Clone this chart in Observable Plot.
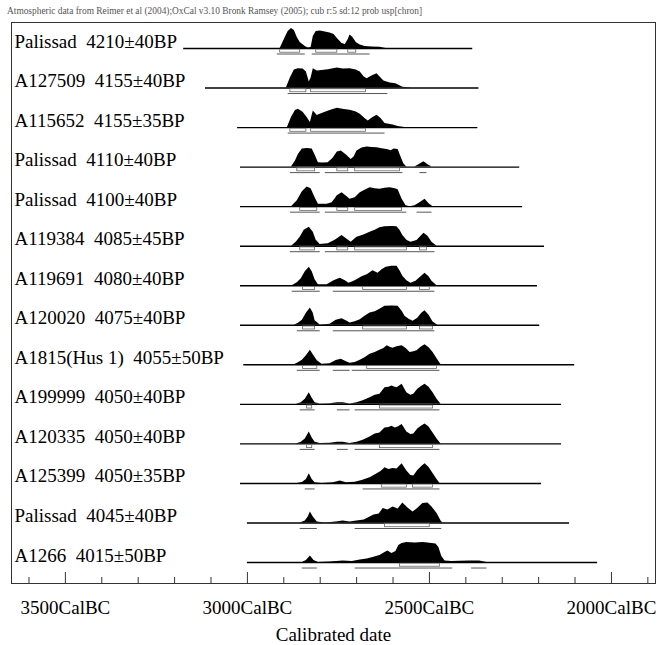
<!DOCTYPE html>
<html><head><meta charset="utf-8">
<script src="https://cdn.jsdelivr.net/npm/d3@7"></script>
<script src="https://cdn.jsdelivr.net/npm/@observablehq/plot@0.6"></script>
<style>
html,body{margin:0;padding:0;background:#fff;}
#title{height:20px;font:9.4px "Liberation Serif",serif;color:#555;padding-left:7px;line-height:22px;white-space:nowrap;overflow:hidden;}
</style></head><body>
<div id="title">Atmospheric data from Reimer et al (2004);OxCal v3.10 Bronk Ramsey (2005); cub r:5 sd:12 prob usp[chron]</div>
<div id="chart"></div>
<script>
// ---- data (years BC) ----
const labels = [
  "Palissad\u00a0 4210±40BP", "A127509\u00a0 4155±40BP", "A115652\u00a0 4155±35BP",
  "Palissad\u00a0 4110±40BP", "Palissad\u00a0 4100±40BP", "A119384\u00a0 4085±45BP",
  "A119691\u00a0 4080±40BP", "A120020\u00a0 4075±40BP", "A1815(Hus 1)\u00a0 4055±50BP",
  "A199999\u00a0 4050±40BP", "A120335\u00a0 4050±40BP", "A125399\u00a0 4050±35BP",
  "Palissad\u00a0 4045±40BP", "A1266\u00a0 4015±50BP"
];
const lineStart = [3175, 3115, 3027, 3019, 3019, 3019, 3019, 3019, 3010, 3019, 3019, 3019, 3000, 3000];
const lineEnd   = [2381, 2364, 2367, 2252, 2244, 2184, 2203, 2197, 2101, 2137, 2137, 2192, 2115, 2038];

const densities = [
  [[2910,0],[2896,0.55],[2888,0.85],[2879,1],[2871,0.9],[2863,0.55],[2855,0.3],[2841,0.1],[2833,0.02],[2825,0.05],[2819,0.6],[2811,0.85],[2800,0.87],[2786,0.83],[2773,0.78],[2762,0.7],[2753,0.5],[2740,0.25],[2731,0.2],[2723,0.45],[2718,0.67],[2710,0.55],[2701,0.3],[2690,0.17],[2677,0.1],[2658,0.08],[2636,0.06],[2619,0]],
  [[2893,0],[2882,0.5],[2871,0.9],[2860,0.97],[2847,0.95],[2838,0.8],[2830,0.3],[2825,0.5],[2819,0.97],[2808,0.85],[2795,0.88],[2778,0.92],[2753,1],[2737,0.95],[2718,0.97],[2701,0.9],[2690,0.8],[2679,0.55],[2671,0.47],[2658,0.6],[2644,0.72],[2633,0.5],[2625,0.35],[2608,0.25],[2592,0.22],[2581,0.12],[2573,0.04],[2548,0]],
  [[2890,0],[2879,0.5],[2868,0.85],[2860,0.92],[2847,0.77],[2836,0.5],[2827,0.25],[2819,0.83],[2808,0.6],[2795,0.7],[2773,0.85],[2753,0.97],[2734,0.9],[2718,0.87],[2701,0.78],[2690,0.67],[2677,0.45],[2668,0.33],[2655,0.5],[2644,0.62],[2633,0.45],[2622,0.2],[2600,0.13],[2586,0.06],[2567,0]],
  [[2879,0],[2868,0.3],[2860,0.63],[2849,0.9],[2836,0.93],[2822,0.9],[2814,0.6],[2805,0.22],[2792,0.2],[2778,0.22],[2764,0.45],[2753,0.75],[2742,0.8],[2728,0.6],[2715,0.38],[2707,0.5],[2699,0.8],[2685,0.95],[2671,1],[2658,0.98],[2644,0.97],[2630,0.92],[2616,0.88],[2605,0.82],[2597,0.9],[2586,0.88],[2578,0.5],[2570,0.15],[2562,0],[2540,0],[2529,0.12],[2515,0.27],[2504,0.12],[2493,0]],
  [[2879,0],[2863,0.3],[2849,0.75],[2836,0.98],[2825,0.9],[2814,0.45],[2805,0.12],[2781,0.12],[2767,0.2],[2753,0.55],[2740,0.7],[2726,0.5],[2718,0.37],[2704,0.45],[2690,0.7],[2677,0.82],[2663,0.95],[2649,0.9],[2636,0.87],[2622,0.92],[2608,0.95],[2594,0.9],[2586,0.85],[2575,0.37],[2564,0.05],[2553,0],[2540,0.05],[2526,0.2],[2512,0.37],[2501,0.15],[2490,0]],
  [[2879,0],[2866,0.2],[2855,0.45],[2844,0.8],[2830,0.95],[2819,0.7],[2811,0.3],[2800,0.08],[2778,0.12],[2759,0.3],[2740,0.53],[2726,0.35],[2715,0.2],[2699,0.45],[2682,0.55],[2663,0.7],[2649,0.8],[2636,0.92],[2622,0.97],[2603,0.98],[2589,0.97],[2581,0.8],[2573,0.53],[2562,0.3],[2551,0.2],[2534,0.28],[2523,0.5],[2515,0.65],[2504,0.5],[2493,0.2],[2479,0]],
  [[2877,0],[2863,0.15],[2852,0.35],[2841,0.7],[2830,0.92],[2822,0.7],[2814,0.3],[2805,0.05],[2781,0.05],[2762,0.25],[2745,0.38],[2731,0.25],[2721,0.13],[2710,0.2],[2699,0.3],[2685,0.45],[2671,0.55],[2655,0.75],[2641,0.63],[2630,0.8],[2619,0.92],[2603,0.97],[2589,0.97],[2581,0.75],[2573,0.47],[2562,0.25],[2551,0.13],[2537,0.22],[2523,0.45],[2512,0.63],[2501,0.45],[2493,0.22],[2479,0]],
  [[2871,0],[2860,0.1],[2849,0.25],[2838,0.6],[2827,0.87],[2819,0.6],[2814,0.23],[2800,0.02],[2773,0.05],[2756,0.25],[2740,0.33],[2726,0.2],[2718,0.12],[2704,0.18],[2690,0.28],[2677,0.45],[2663,0.62],[2649,0.68],[2636,0.8],[2622,0.95],[2603,0.97],[2586,0.95],[2575,0.7],[2567,0.45],[2556,0.3],[2545,0.2],[2532,0.35],[2521,0.6],[2512,0.73],[2501,0.5],[2490,0.17],[2477,0]],
  [[2871,0],[2860,0.1],[2849,0.23],[2838,0.45],[2827,0.73],[2819,0.5],[2808,0.2],[2795,0.03],[2773,0.05],[2756,0.22],[2742,0.28],[2728,0.15],[2718,0.08],[2704,0.12],[2690,0.23],[2677,0.35],[2663,0.53],[2649,0.62],[2636,0.73],[2625,0.82],[2616,0.95],[2608,0.88],[2600,0.83],[2589,0.9],[2575,0.95],[2564,0.82],[2553,0.62],[2543,0.65],[2534,0.7],[2523,0.88],[2512,1],[2501,0.85],[2490,0.62],[2479,0.3],[2468,0]],
  [[2866,0],[2852,0.08],[2841,0.25],[2830,0.58],[2822,0.3],[2814,0.08],[2800,0.02],[2773,0.03],[2753,0.08],[2737,0.08],[2718,0.02],[2699,0.08],[2682,0.18],[2663,0.33],[2649,0.45],[2636,0.5],[2622,0.83],[2611,0.85],[2603,0.92],[2594,0.85],[2589,0.83],[2575,1],[2562,0.58],[2551,0.45],[2543,0.5],[2532,0.75],[2521,0.9],[2512,1],[2501,0.85],[2490,0.58],[2479,0.25],[2468,0]],
  [[2866,0],[2852,0.08],[2841,0.25],[2830,0.6],[2822,0.3],[2814,0.08],[2800,0.02],[2773,0.03],[2753,0.08],[2737,0.08],[2718,0.02],[2699,0.08],[2682,0.18],[2663,0.35],[2649,0.5],[2636,0.55],[2622,0.8],[2611,0.82],[2603,0.88],[2594,0.8],[2586,0.85],[2575,0.97],[2562,0.6],[2551,0.47],[2543,0.5],[2532,0.75],[2521,0.9],[2512,1],[2501,0.85],[2490,0.55],[2479,0.25],[2468,0]],
  [[2863,0],[2849,0.05],[2838,0.2],[2830,0.48],[2822,0.2],[2814,0.04],[2795,0],[2764,0.03],[2745,0.12],[2728,0.04],[2704,0.06],[2685,0.15],[2663,0.28],[2647,0.45],[2633,0.6],[2622,0.78],[2611,0.7],[2600,0.75],[2589,0.72],[2575,0.98],[2562,0.62],[2551,0.4],[2543,0.37],[2532,0.65],[2521,0.85],[2512,0.98],[2501,0.8],[2490,0.5],[2479,0.2],[2471,0]],
  [[2855,0],[2841,0.1],[2833,0.3],[2827,0.55],[2819,0.3],[2808,0.05],[2786,0],[2756,0.05],[2737,0.1],[2718,0.05],[2699,0.1],[2679,0.15],[2663,0.3],[2652,0.4],[2638,0.45],[2627,0.72],[2614,0.65],[2600,0.8],[2586,0.7],[2573,1],[2559,0.75],[2545,0.55],[2534,0.7],[2518,0.97],[2504,1],[2493,0.8],[2479,0.47],[2468,0.1],[2463,0]],
  [[2849,0],[2838,0.1],[2827,0.33],[2817,0.1],[2805,0],[2773,0.02],[2737,0.08],[2712,0.05],[2690,0.12],[2671,0.18],[2655,0.25],[2636,0.35],[2622,0.5],[2614,0.58],[2603,0.45],[2592,0.55],[2584,0.85],[2575,0.95],[2562,1],[2540,0.98],[2518,1],[2504,0.97],[2493,0.95],[2482,0.92],[2474,0.75],[2466,0.3],[2457,0.08],[2438,0.05],[2416,0.06],[2389,0.08],[2362,0.08],[2342,0]]
];

// 68.2% (1 sigma) and 95.4% (2 sigma) ranges, [from, to] years BC per row
const sigma1 = [
  [[2910,2855],[2811,2753],[2723,2701]],
  [[2882,2838],[2825,2674]],
  [[2882,2838],[2825,2674]],
  [[2863,2814],[2753,2723],[2704,2581]],
  [[2855,2808],[2753,2723],[2704,2575]],
  [[2855,2814],[2753,2723],[2704,2562],[2526,2507]],
  [[2847,2814],[2682,2562],[2526,2499]],
  [[2847,2814],[2682,2562],[2526,2490]],
  [[2847,2808],[2671,2479]],
  [[2836,2822],[2636,2490]],
  [[2836,2822],[2636,2490]],
  [[2630,2562],[2545,2490]],
  [[2622,2499]],
  [[2581,2471]]
];
const sigma2 = [
  [[2918,2841],[2822,2663]],
  [[2888,2614]],
  [[2888,2622]],
  [[2882,2800],[2786,2573],[2526,2507]],
  [[2882,2800],[2786,2562],[2534,2493]],
  [[2882,2800],[2786,2485]],
  [[2877,2800],[2764,2485]],
  [[2863,2800],[2764,2485]],
  [[2863,2800],[2764,2718],[2712,2471]],
  [[2855,2814],[2753,2718],[2704,2471]],
  [[2855,2814],[2753,2723],[2704,2471]],
  [[2841,2814],[2682,2471]],
  [[2855,2808],[2704,2466]],
  [[2849,2808],[2704,2436],[2384,2342]]
];

const majorTicks = [3500, 3000, 2500, 2000];
const tickLabels = ["3500CalBC", "3000CalBC", "2500CalBC", "2000CalBC"];
const minorTicks = [3600, 3400, 3300, 3200, 3100, 2900, 2800, 2700, 2600, 2400, 2300, 2200, 2100, 1900];
const xLabel = "Calibrated date";

// ---- layout constants ----
const PX = 39.54;          // pixels per row
const H = 20 / PX;         // max density height in row units
const svgH = 625, mTop = 2, mBottom = 62, firstBase = 28;
const yMin = -(svgH - mBottom - firstBase) / PX;
const yMax = (firstBase - mTop) / PX;

const rows = labels.map((label, i) => ({i, label, start: lineStart[i], end: lineEnd[i]}));
const areaData = densities.flatMap((pts, i) => pts.map(([year, p]) => ({row: i, year, p})));
const s1 = sigma1.flatMap((r, i) => r.map(([a, b]) => ({row: i, a, b})));
const s2 = sigma2.flatMap((r, i) => r.map(([a, b]) => ({row: i, a, b})));

const chart = Plot.plot({
  width: 659,
  height: svgH,
  marginLeft: 11,
  marginRight: 4,
  marginTop: mTop,
  marginBottom: mBottom,
  style: {fontFamily: "'Liberation Serif', 'Times New Roman', serif", fontSize: "19px", color: "black", background: "white"},
  x: {domain: [3648, 1879], axis: null},
  y: {domain: [yMin, yMax], axis: null},
  marks: [
    Plot.frame({stroke: "#333", strokeWidth: 1}),
    Plot.areaY(areaData, {x: "year", y1: d => -d.row, y2: d => -d.row + d.p * H, z: "row", fill: "black", curve: "linear"}),
    Plot.ruleY(rows, {y: d => -d.i, x1: "start", x2: "end", stroke: "black", strokeWidth: 1.4}),
    Plot.ruleY(s2, {y: d => -d.row - 5.5 / PX, x1: "a", x2: "b", stroke: "#555", strokeWidth: 1}),
    Plot.rect(s1, {x1: "a", x2: "b", y1: d => -d.row - 1.2 / PX, y2: d => -d.row - 4.2 / PX, fill: "white", stroke: "#666", strokeWidth: 0.8}),
    Plot.text(rows, {y: d => -d.i, text: "label", frameAnchor: "left", textAnchor: "start", lineAnchor: "bottom", dx: 3, dy: -1, fontSize: 19}),
    Plot.ruleX(minorTicks, {x: d => d, y1: yMin, y2: yMin + 6 / PX, stroke: "#333", strokeWidth: 1}),
    Plot.ruleX(majorTicks, {x: d => d, y1: yMin, y2: yMin + 11 / PX, stroke: "#333", strokeWidth: 1}),
    Plot.text(majorTicks, {x: d => d, text: (d, i) => tickLabels[i], frameAnchor: "bottom", lineAnchor: "bottom", dy: 30, fontSize: 19}),
    Plot.text([xLabel], {text: d => d, frameAnchor: "bottom", lineAnchor: "bottom", dy: 57, fontSize: 19})
  ]
});
document.getElementById("chart").appendChild(chart);
</script>
</body></html>
